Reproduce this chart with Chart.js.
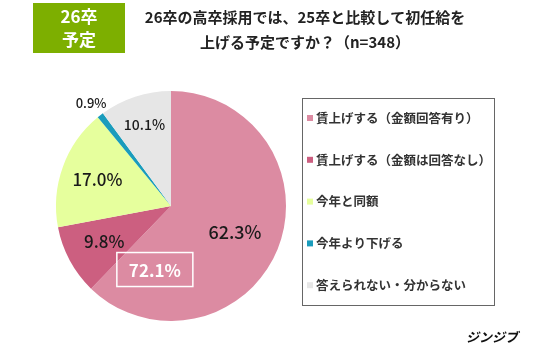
<!DOCTYPE html>
<html>
<head>
<meta charset="utf-8">
<script src="https://cdn.jsdelivr.net/npm/chart.js@4"></script>
<style>
  body { margin: 0; background: #fff; }
  #wrap { width: 536px; height: 360px; position: relative; }
</style>
</head>
<body>
<div id="wrap"><canvas id="pieChart" width="536" height="360"></canvas></div>
<script>
// --- data ---
const categories = ['賃上げする（金額回答有り）', '賃上げする（金額は回答なし）', '今年と同額', '今年より下げる', '答えられない・分からない'];
const shares = [62.3, 9.8, 17.0, 0.9, 10.1];
const sliceColors = ['#dc8ba2', '#cc5f80', '#e6ff9d', '#1a9cbc', '#e6e6e6'];
const titleLines = ['26卒の高卒採用では、25卒と比較して初任給を', '上げる予定ですか？（n=348）'];
const badgeLines = ['26卒', '予定'];
const totalRaiseLabel = '72.1%';
const brand = 'ジンジブ';

// label styling per slice (distance factor from centre, font size)
const labelDist = [0.6, 0.66, 0.68, 1.13, 0.74];
const labelSize = [18, 17, 17, 13, 14];

const JP = '"Noto Sans CJK JP", "Noto Sans", sans-serif';

const decorPlugin = {
    id: 'decor',
    afterDraw(chart) {
        const ctx = chart.ctx;
        const meta = chart.getDatasetMeta(0);
        ctx.save();

        // badge
        ctx.fillStyle = '#7daf00';
        ctx.fillRect(33, 3, 92, 50);
        ctx.fillStyle = '#fff';
        ctx.font = 'bold 17px ' + JP;
        ctx.textAlign = 'center';
        ctx.textBaseline = 'middle';
        ctx.fillText(badgeLines[0], 79, 17);
        ctx.fillText(badgeLines[1], 79, 40);

        // title
        ctx.fillStyle = '#222';
        ctx.font = 'bold 15px ' + JP;
        ctx.fillText(titleLines[0], 305, 17);
        ctx.fillText(titleLines[1], 305, 42);

        // slice labels
        meta.data.forEach((arc, i) => {
            const mid = (arc.startAngle + arc.endAngle) / 2;
            const r = arc.outerRadius * labelDist[i];
            const x = arc.x + Math.cos(mid) * r;
            const y = arc.y + Math.sin(mid) * r;
            ctx.fillStyle = '#1a1a1a';
            ctx.font = '500 ' + labelSize[i] + 'px ' + JP;
            ctx.fillText(shares[i].toFixed(1) + '%', x, y);
        });

        // combined raise label (slices 0 + 1)
        const a0 = meta.data[0];
        const ang = a0.endAngle - 0.52;
        const rr = a0.outerRadius * 0.57;
        const bx = a0.x + Math.cos(ang) * rr;
        const by = a0.y + Math.sin(ang) * rr;
        ctx.strokeStyle = '#fff';
        ctx.lineWidth = 1.5;
        ctx.strokeRect(bx - 38, by - 17, 76, 34);
        ctx.fillStyle = '#fff';
        ctx.font = 'bold 17px ' + JP;
        ctx.fillText(totalRaiseLabel, bx, by + 1);

        // legend box
        ctx.strokeStyle = '#666';
        ctx.lineWidth = 1;
        ctx.strokeRect(302.5, 98.5, 192, 207);
        ctx.textAlign = 'left';
        ctx.font = 'bold 12.5px ' + JP;
        categories.forEach((c, i) => {
            const y = 118 + i * 41.8;
            ctx.fillStyle = sliceColors[i];
            ctx.fillRect(307, y - 3, 6, 6);
            ctx.fillStyle = '#333';
            ctx.fillText(c, 316, y);
        });

        // brand
        ctx.textAlign = 'right';
        ctx.fillStyle = '#111';
        ctx.font = 'italic bold 13px ' + JP;
        ctx.fillText(brand, 518, 337);
        ctx.restore();
    }
};

new Chart(document.getElementById('pieChart').getContext('2d'), {
    type: 'pie',
    data: {
        labels: categories,
        datasets: [{
            data: shares,
            backgroundColor: sliceColors,
            borderWidth: 0
        }]
    },
    options: {
        responsive: false,
        animation: false,
        layout: { padding: { left: 56, top: 91, right: 250, bottom: 39 } },
        plugins: {
            legend: { display: false },
            tooltip: { enabled: false }
        }
    },
    plugins: [decorPlugin]
});
</script>
</body>
</html>
